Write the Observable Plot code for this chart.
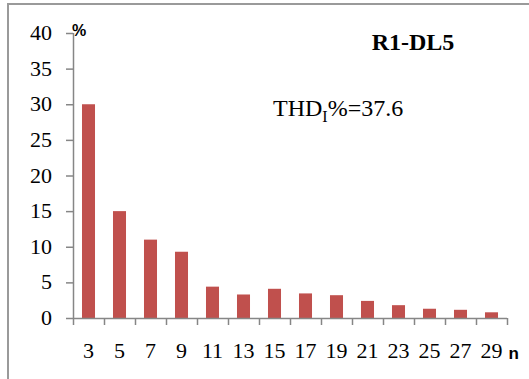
<!DOCTYPE html>
<html><head><meta charset="utf-8">
<script src="https://cdn.jsdelivr.net/npm/d3@7"></script>
<script src="https://cdn.jsdelivr.net/npm/@observablehq/plot@0.6"></script>
<style>
body{margin:0;background:#fff;}
#wrap{position:relative;width:529px;height:379px;overflow:hidden;background:#fff;}
#frame{position:absolute;left:7px;top:3px;width:540px;height:400px;border-top:2px solid #9a9a9a;border-left:2px solid #9a9a9a;pointer-events:none;}
#wrap svg{position:absolute;left:0;top:0;}
.lbl{position:absolute;white-space:nowrap;color:#000;}
.tick{font-size:22px;line-height:22px;}
</style></head><body><div id="wrap" style="font-family:'Liberation Serif'"><div id="frame"></div></div>
<script>
const harmonics = [3,5,7,9,11,13,15,17,19,21,23,25,27,29];
const values = [30, 15, 11, 9.3, 4.4, 3.3, 4.1, 3.45, 3.2, 2.4, 1.8, 1.3, 1.15, 0.8];
const yTicks = [0,5,10,15,20,25,30,35,40];
const xBoundaries = [2,4,6,8,10,12,14,16,18,20,22,24,26,28,30];
const title = "R1-DL5";
const thdLabel = ["THD", "I", "%=37.6"];
const yUnit = "%";
const xUnit = "n";

const data = harmonics.map((n, i) => ({n, v: values[i]}));
const axisColor = "#868686";
const barColor = "#C0504D";

const chart = Plot.plot({
  width: 529, height: 379,
  marginLeft: 73, marginRight: 22, marginTop: 33, marginBottom: 61,
  style: {background: "transparent", overflow: "visible"},
  x: {domain: [2, 30], axis: null, label: null},
  y: {domain: [0, 40], axis: null, label: null},
  marks: [
    Plot.rectY(data, {x1: d => d.n - 0.42, x2: d => d.n + 0.42, y: "v", fill: barColor}),
    Plot.ruleX([2], {y1: 0, y2: 40, stroke: axisColor, strokeWidth: 1.5}),
    Plot.ruleY([0], {x1: 2, x2: 30, stroke: axisColor, strokeWidth: 1.5}),
    Plot.axisY({ticks: yTicks, label: null, tickSize: 7, stroke: axisColor, strokeWidth: 1.5, tickFormat: () => ""}),
    Plot.axisX({ticks: xBoundaries, label: null, tickSize: 7, stroke: axisColor, strokeWidth: 1.5, tickFormat: () => ""})
  ]
});

const wrap = document.getElementById("wrap");
wrap.appendChild(chart);

const xs = chart.scale("x"), ys = chart.scale("y");
const x0 = xs.apply(2), y0 = ys.apply(0);

function addLabel(html, left, top, cls, extra) {
  const el = document.createElement("div");
  el.className = "lbl " + (cls || "");
  el.setAttribute("style", `left:${left}px;top:${top}px;${extra || ""}`);
  el.innerHTML = html;
  wrap.appendChild(el);
  return el;
}

// y tick labels (right-aligned, vertically centred on the tick)
yTicks.forEach(v => addLabel(String(v), x0 - 21, ys.apply(v), "tick", "transform:translate(-100%,-50%);font-family:'Liberation Serif'"));
// x tick labels (centred under each bar)
harmonics.forEach(n => addLabel(String(n), xs.apply(n), y0 + 21.5, "tick", "transform:translate(-50%,0);font-family:'Liberation Serif'"));

// axis unit labels
addLabel(yUnit, x0 - 1, ys.apply(40) - 10.5, "", "font-family:'Liberation Sans';font-weight:bold;font-size:16px;line-height:16px");
addLabel(xUnit, xs.apply(30) + 1.5, y0 + 27, "", "font-family:'Liberation Sans';font-weight:bold;font-size:17px;line-height:17px");

// title and annotation
addLabel(title, 413, 30, "", "transform:translate(-50%,0);font-family:'Liberation Serif';font-size:24px;line-height:24px;font-weight:bold");
addLabel(`${thdLabel[0]}<span style="font-size:16px;vertical-align:-6px">${thdLabel[1]}</span>${thdLabel[2]}`, 273, 96, "", "font-family:'Liberation Serif';font-size:24px;line-height:24px");
</script>
</body></html>
